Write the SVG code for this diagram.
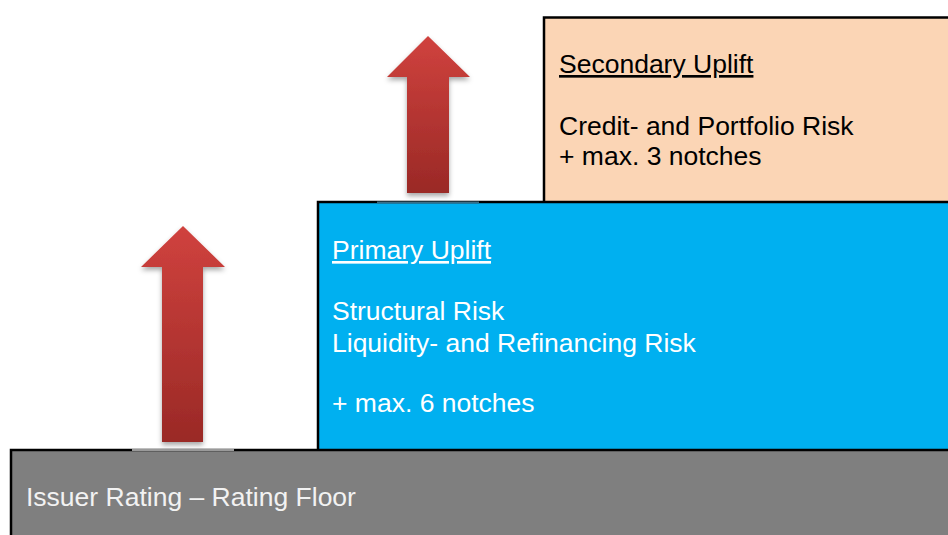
<svg xmlns="http://www.w3.org/2000/svg" width="948" height="535" viewBox="0 0 948 535">
<defs>
<linearGradient id="redGrad" x1="0" y1="0" x2="0" y2="1">
<stop offset="0" stop-color="#D0423E"/>
<stop offset="1" stop-color="#9A2926"/>
</linearGradient>
<filter id="shadow" x="-30%" y="-10%" width="160%" height="130%">
<feDropShadow dx="0" dy="3" stdDeviation="2.5" flood-color="#000" flood-opacity="0.35"/>
</filter>
<style>
.box{stroke:#000;stroke-width:2.5}
.t{font-family:"Liberation Sans",Arial,sans-serif;font-size:26.5px}
.head{text-decoration:underline}
</style>
</defs>
<rect width="948" height="535" fill="#FFFFFF"/>
<g id="secondary">
<rect class="box" x="544" y="17.5" width="410" height="190" fill="#FBD5B5"/>
<text class="t head" x="559" y="73" fill="#000">Secondary Uplift</text>
<text class="t" x="559" y="135" fill="#000">Credit- and Portfolio Risk</text>
<text class="t" x="559" y="165" fill="#000">+ max. 3 notches</text>
</g>
<g id="primary">
<rect class="box" x="318" y="202" width="640" height="260" fill="#00B0F0"/>
<text class="t head" x="332" y="259" fill="#FFFFFF">Primary Uplift</text>
<text class="t" x="332" y="320" fill="#FFFFFF">Structural Risk</text>
<text class="t" x="332" y="352" fill="#FFFFFF">Liquidity- and Refinancing Risk</text>
<text class="t" x="332" y="412" fill="#FFFFFF">+ max. 6 notches</text>
</g>
<g id="floor">
<rect class="box" x="11" y="450" width="950" height="100" fill="#7F7F7F"/>
<text class="t" x="26" y="506" fill="#F2F2F2">Issuer Rating – Rating Floor</text>
</g>
<g id="connectors">
<line x1="377" y1="202.5" x2="479" y2="202.5" stroke="#3a6f88" stroke-width="2"/>
<path d="M428,36 L470,77 L449,77 L449,193 L407,193 L407,77 L387,77 Z" fill="url(#redGrad)" filter="url(#shadow)"/>
<line x1="132" y1="450" x2="234" y2="450" stroke="#9a9a9a" stroke-width="2"/>
<path d="M183,226 L225,267 L203,267 L203,442 L162,442 L162,267 L141,267 Z" fill="url(#redGrad)" filter="url(#shadow)"/>
</g>
</svg>
